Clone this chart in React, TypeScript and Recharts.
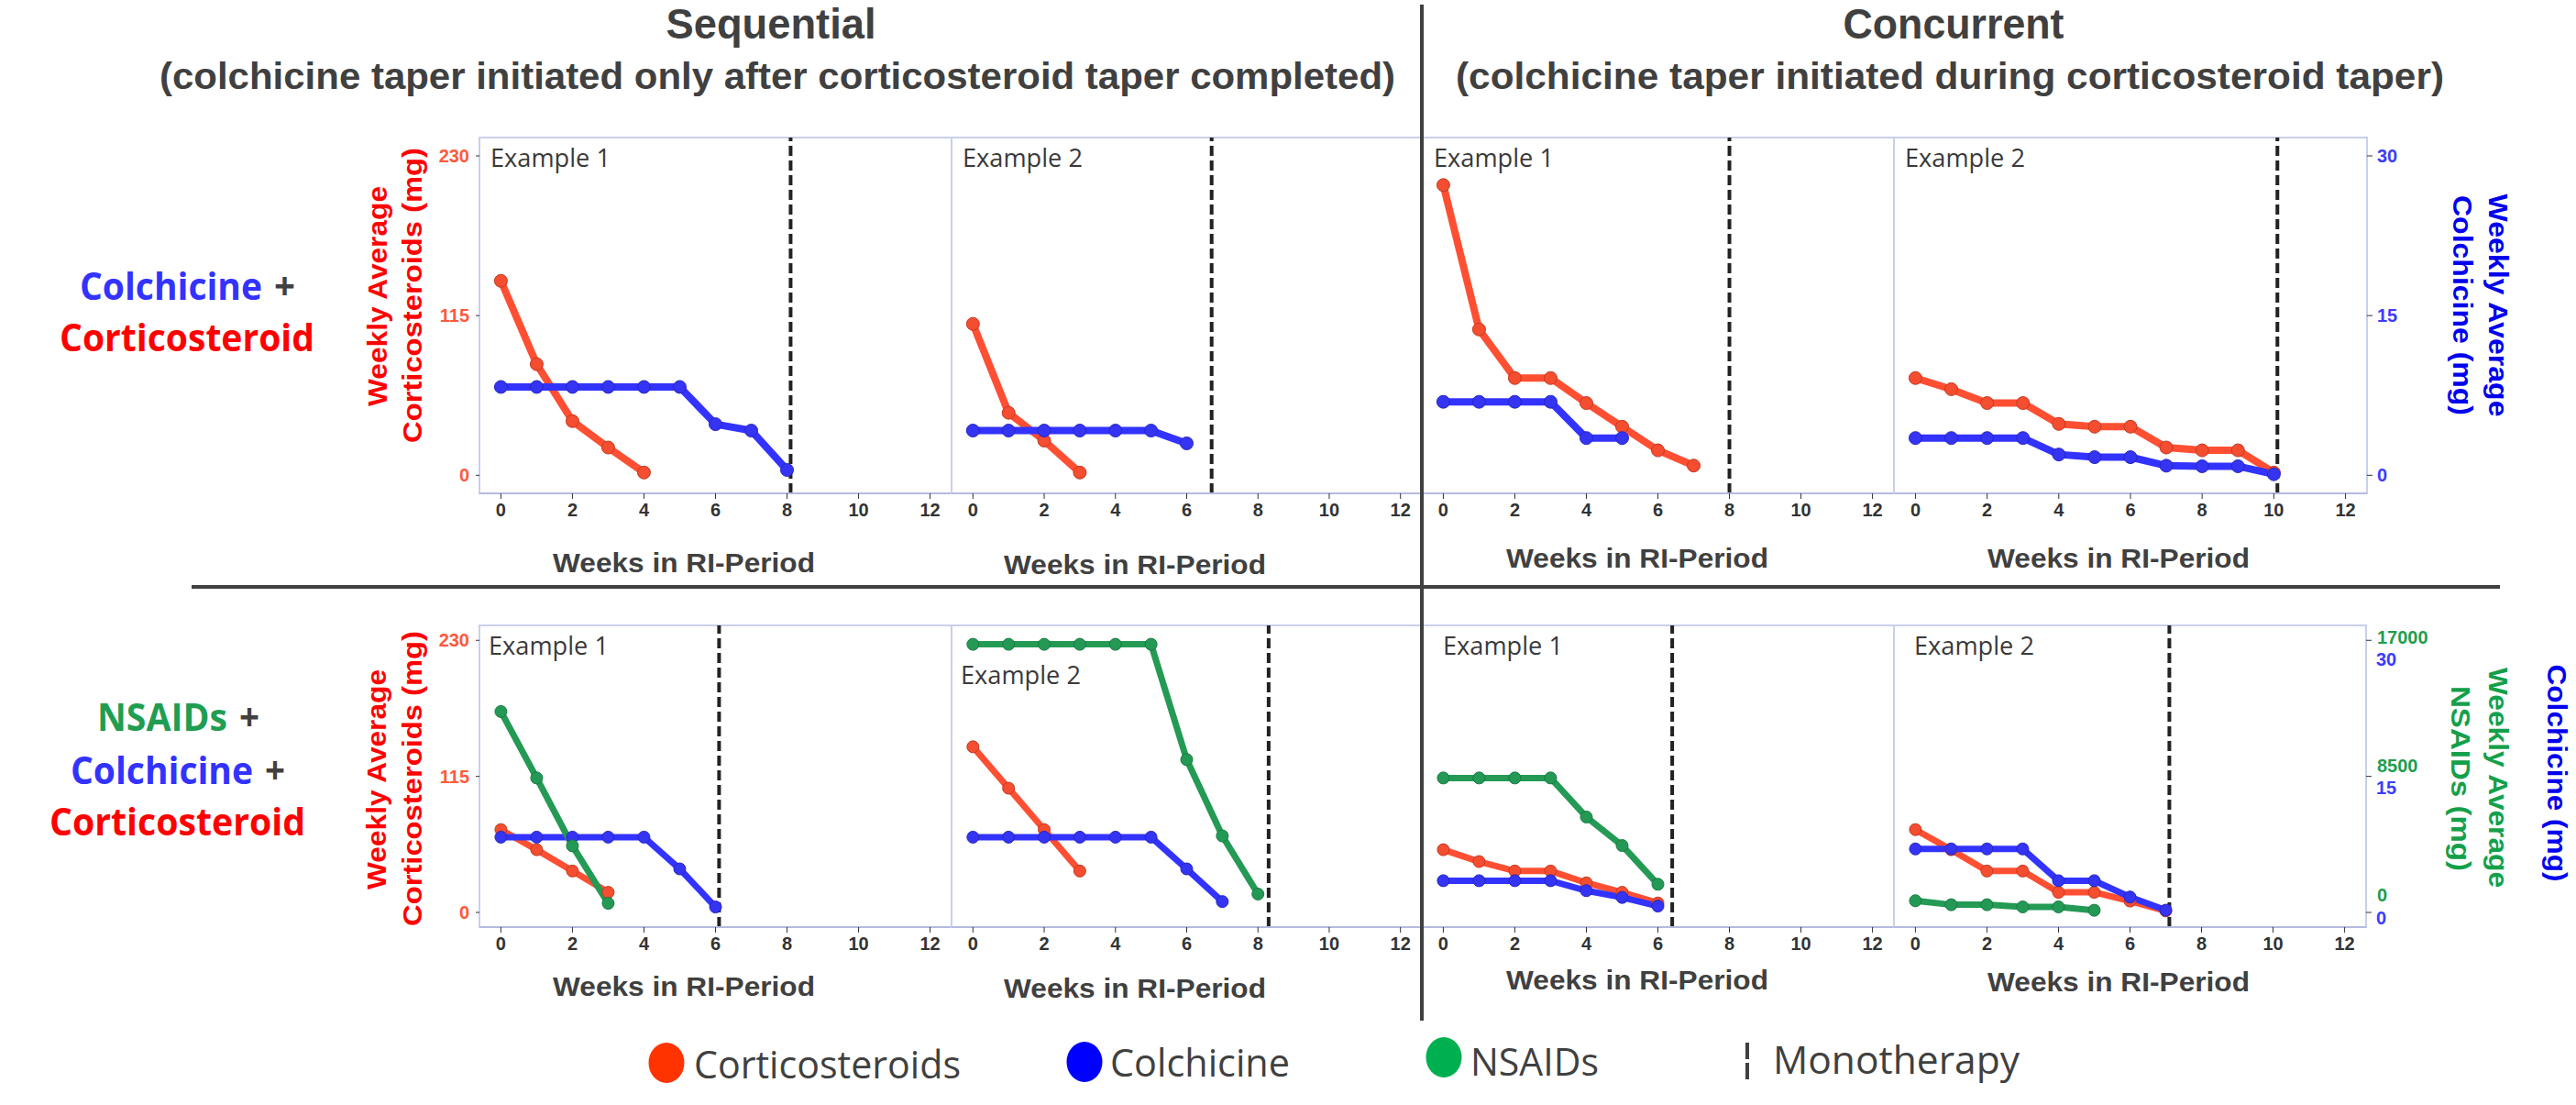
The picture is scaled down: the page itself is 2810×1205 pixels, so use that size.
import React from "react";
import { LineChart, Line, XAxis, YAxis, ReferenceLine, ReferenceArea } from "recharts";

// ---- data (weekly averages) ----
const weekTicks = [0, 2, 4, 6, 8, 10, 12];
const cortTicks = [0, 115, 230];
const colchTicks = [0, 15, 30];
const nsaidTicks = [0, 8500, 17000];

// Sequential, colchicine + corticosteroid
const seqCcEx1Cort = [140, 80, 39, 20, 2];
const seqCcEx1Colch = [8.3, 8.3, 8.3, 8.3, 8.3, 8.3, 4.8, 4.2, 0.5];
const seqCcEx2Cort = [109, 45, 25, 2];
const seqCcEx2Colch = [4.2, 4.2, 4.2, 4.2, 4.2, 4.2, 3.0];

// Concurrent, colchicine + corticosteroid
const conCcEx1Cort = [209, 105, 70, 70, 52, 35, 18, 7];
const conCcEx1Colch = [6.9, 6.9, 6.9, 6.9, 3.5, 3.5];
const conCcEx2Cort = [70, 62, 52, 52, 37, 35, 35, 20, 18, 18, 2];
const conCcEx2Colch = [3.5, 3.5, 3.5, 3.5, 1.95, 1.7, 1.7, 0.9, 0.85, 0.85, 0.1];

// Sequential, NSAIDs + colchicine + corticosteroid
const seqNccEx1Cort = [70, 53, 35, 17];
const seqNccEx1Colch = [8.3, 8.3, 8.3, 8.3, 8.3, 4.8, 0.6];
const seqNccEx1Nsaid = [12550, 8400, 4160, 570];
const seqNccEx2Cort = [140, 105, 70, 35];
const seqNccEx2Colch = [8.3, 8.3, 8.3, 8.3, 8.3, 8.3, 4.8, 1.2];
const seqNccEx2Nsaid = [16750, 16750, 16750, 16750, 16750, 16750, 9550, 4780, 1150];

// Concurrent, NSAIDs + colchicine + corticosteroid
const conNccEx1Cort = [53, 43, 35, 35, 25, 17, 8];
const conNccEx1Colch = [3.5, 3.5, 3.5, 3.5, 2.4, 1.65, 0.7];
const conNccEx1Nsaid = [8400, 8400, 8400, 8400, 5960, 4180, 1760];
const conNccEx2Cort = [70, 53, 35, 35, 17, 17, 9.6, 1.3];
const conNccEx2Colch = [7.0, 7.0, 7.0, 7.0, 3.5, 3.5, 1.7, 0.25];
const conNccEx2Nsaid = [730, 480, 480, 345, 345, 135];

// week at which monotherapy starts (dashed line), panel order
const monoWeek = [8.1, 6.7, 8, 10.1, 6.1, 8.3, 6.4, 7.1];
const exampleNames = ["Example 1", "Example 2", "Example 1", "Example 2", "Example 1", "Example 2", "Example 1", "Example 2"];

// ---- look ----
const CORT = "#ff4f33";
const COLCH = "#3333ff";
const NSAID = "#249a55";
const BORDER = "#c9cfec";
const DARK = "#404040";
const NARROW = "'Liberation Sans Narrow', 'Arial Narrow', 'Liberation Sans', sans-serif";
const SANS = "'Open Sans', 'Noto Sans', sans-serif";
const ARIAL = "'Liberation Sans', Arial, sans-serif";

const toRows = (cort: number[], colch: number[], nsaid: number[] = []) => {
  const n = Math.max(cort.length, colch.length, nsaid.length);
  return Array.from({ length: n }, (_, i) => ({ week: i, cort: cort[i], colch: colch[i], nsaid: nsaid[i] }));
};

type PanelSpec = {
  rows: any[];
  mono: number;
  name: string;
  x: number;
  y: number;
  w: number;
  h: number;
  cortDomain: [number, number];
  left?: boolean;
  right?: "colch" | "both";
  weeksX: number; // label centre, relative to plot left
  weeksY: number; // label centre, relative to plot bottom
  exX: number;
  exY: number;
  lw: number;
  r: number;
};

const TOP_DOM: [number, number] = [-13, 243.2];
const BOT_DOM: [number, number] = [-12.4, 242.6];

const panels: PanelSpec[] = [
  { rows: toRows(seqCcEx1Cort, seqCcEx1Colch), x: 523, y: 150, w: 515, h: 388, cortDomain: TOP_DOM, left: true, weeksX: 223, weeksY: 75, exX: 12, exY: 32, lw: 8, r: 7 },
  { rows: toRows(seqCcEx2Cort, seqCcEx2Colch), x: 1038, y: 150, w: 513, h: 388, cortDomain: TOP_DOM, weeksX: 200, weeksY: 77, exX: 12, exY: 32, lw: 8, r: 7 },
  { rows: toRows(conCcEx1Cort, conCcEx1Colch), x: 1551, y: 150, w: 515, h: 388, cortDomain: TOP_DOM, weeksX: 235, weeksY: 70, exX: 13, exY: 32, lw: 8, r: 7 },
  { rows: toRows(conCcEx2Cort, conCcEx2Colch), x: 2066, y: 150, w: 515, h: 388, cortDomain: TOP_DOM, right: "colch", weeksX: 245, weeksY: 70, exX: 12, exY: 32, lw: 8, r: 7 },
  { rows: toRows(seqNccEx1Cort, seqNccEx1Colch, seqNccEx1Nsaid), x: 523, y: 682, w: 515, h: 329, cortDomain: BOT_DOM, left: true, weeksX: 223, weeksY: 64, exX: 10, exY: 32, lw: 7, r: 6.5 },
  { rows: toRows(seqNccEx2Cort, seqNccEx2Colch, seqNccEx2Nsaid), x: 1038, y: 682, w: 513, h: 329, cortDomain: BOT_DOM, weeksX: 200, weeksY: 66, exX: 10, exY: 64, lw: 7, r: 6.5 },
  { rows: toRows(conNccEx1Cort, conNccEx1Colch, conNccEx1Nsaid), x: 1551, y: 682, w: 515, h: 329, cortDomain: BOT_DOM, weeksX: 235, weeksY: 57, exX: 23, exY: 32, lw: 7, r: 6.5 },
  { rows: toRows(conNccEx2Cort, conNccEx2Colch, conNccEx2Nsaid), x: 2066, y: 682, w: 515, h: 329, cortDomain: BOT_DOM, right: "both", weeksX: 245, weeksY: 59, exX: 22, exY: 32, lw: 7, r: 6.5 },
].map((p, i) => ({ ...p, mono: monoWeek[i], name: exampleNames[i] }));

const scaleDom = (d: [number, number], k: number): [number, number] => [d[0] * k, d[1] * k];

const tickFont = { fontFamily: ARIAL, fontWeight: 700, fontSize: 20 };

const makeSideTick = (color: string, offsets: number[], values: number[]) => (props: any) => {
  const { x, y, payload } = props;
  const idx = values.indexOf(payload.value);
  return (
    <text x={x} y={y + (offsets[idx] ?? 0)} fill={color} textAnchor="start" dominantBaseline="central" style={tickFont}>
      {payload.value}
    </text>
  );
};

function Panel({ p }: { p: PanelSpec }) {
  const leftW = p.left ? 70 : 0;
  const rightW = p.right ? 2 : 0;
  const mL = 10;
  const mT = 10;
  const mR = p.right ? 100 : 10;
  const axisH = 110;
  const width = mL + leftW + p.w + rightW + mR;
  const height = mT + p.h + axisH;
  const colchDom = scaleDom(p.cortDomain, 30 / 230);
  const nsaidDom = scaleDom(p.cortDomain, 17000 / 230);
  const both = p.right === "both";

  const dot = (fill: string, stroke: string) => ({ r: p.r, fill, stroke, strokeWidth: 1 });

  return (
    <div style={{ position: "absolute", left: p.x - mL - leftW, top: p.y - mT }}>
      <LineChart width={width} height={height} data={p.rows} margin={{ top: mT, right: mR, bottom: 0, left: mL }}>
        <XAxis
          dataKey="week"
          type="number"
          domain={[-0.6, 12.6]}
          ticks={weekTicks}
          allowDataOverflow
          height={axisH}
          axisLine={{ stroke: "#b5bbdf", strokeWidth: 2 }}
          tickLine={{ stroke: "#333" }}
          tickSize={6}
          tickMargin={5}
          tick={{ ...tickFont, fill: "#333" }}
          label={{
            value: "Weeks in RI-Period",
            content: (lp: any) => {
              const vb = lp.viewBox;
              return (
                <text
                  x={vb.x + p.weeksX}
                  y={vb.y + p.weeksY}
                  textAnchor="middle"
                  dominantBaseline="central"
                  textLength={286}
                  lengthAdjust="spacingAndGlyphs"
                  fill={DARK}
                  style={{ fontFamily: NARROW, fontWeight: 700, fontSize: 30 }}
                >
                  Weeks in RI-Period
                </text>
              );
            },
          }}
        />
        <YAxis
          yAxisId="cort"
          type="number"
          domain={p.cortDomain}
          ticks={cortTicks}
          allowDataOverflow
          hide={!p.left}
          width={leftW}
          axisLine={false}
          tickLine={{ stroke: "#333" }}
          tickSize={4}
          tickMargin={7}
          tick={{ ...tickFont, fill: "#ff5a3c" }}
        />
        <YAxis
          yAxisId="colch"
          orientation="right"
          type="number"
          domain={colchDom}
          ticks={colchTicks}
          allowDataOverflow
          hide={!p.right}
          width={1}
          axisLine={false}
          tickLine={{ stroke: "#333" }}
          tickSize={6}
          tickMargin={5}
          tick={both ? makeSideTick("#3c3cff", [6, 12, 21], colchTicks) : makeSideTick("#3c3cff", [0, 0, 0], colchTicks)}
        />
        <YAxis
          yAxisId="nsaid"
          orientation="right"
          type="number"
          domain={nsaidDom}
          ticks={nsaidTicks}
          allowDataOverflow
          hide={!both}
          width={1}
          axisLine={false}
          tickLine={false}
          tickSize={6}
          tickMargin={5}
          tick={makeSideTick("#1e9e50", [-19, -12, -3], nsaidTicks)}
        />
        <ReferenceArea
          yAxisId="cort"
          x1={-0.6}
          x2={12.6}
          y1={p.cortDomain[0]}
          y2={p.cortDomain[1]}
          fill="none"
          stroke={BORDER}
          strokeWidth={2}
        />
        <ReferenceLine yAxisId="cort" x={p.mono} stroke="#222" strokeWidth={4} strokeDasharray="11 5" />
        <Line
          yAxisId="cort"
          dataKey="cort"
          type="linear"
          stroke={CORT}
          strokeWidth={p.lw}
          dot={dot("#f44d30", "#c23a22")}
          activeDot={false}
          isAnimationActive={false}
        />
        <Line
          yAxisId="colch"
          dataKey="colch"
          type="linear"
          stroke={COLCH}
          strokeWidth={p.lw}
          dot={dot("#3434f2", "#2626c4")}
          activeDot={false}
          isAnimationActive={false}
        />
        <Line
          yAxisId="nsaid"
          dataKey="nsaid"
          type="linear"
          stroke={NSAID}
          strokeWidth={p.lw}
          dot={dot("#249955", "#1a7a42")}
          activeDot={false}
          isAnimationActive={false}
        />
      </LineChart>
    </div>
  );
}

function RotText({ cx, cy, len, color, children, deg = -90, size = 30 }: any) {
  return (
    <text
      transform={`translate(${cx},${cy}) rotate(${deg})`}
      textAnchor="middle"
      dominantBaseline="central"
      textLength={len}
      lengthAdjust="spacingAndGlyphs"
      fill={color}
      style={{ fontFamily: ARIAL, fontWeight: 700, fontSize: size }}
    >
      {children}
    </text>
  );
}

// a bold label placed by its left edge and width
function Word({ x, y, w, color, children }: any) {
  return (
    <text x={x} y={y} textLength={w} lengthAdjust="spacingAndGlyphs" fill={color} style={{ fontFamily: SANS, fontWeight: 700, fontSize: 42 }}>
      {children}
    </text>
  );
}

function Overlay() {
  const leg = { fontFamily: SANS, fontWeight: 400, fontSize: 42 };
  const ex = { fontFamily: SANS, fontWeight: 400, fontSize: 28 };
  const head = { fontFamily: ARIAL, fontWeight: 700, fontSize: 46 };
  const sub = { fontFamily: ARIAL, fontWeight: 700, fontSize: 41 };
  return (
    <svg width={2810} height={1205} style={{ position: "absolute", left: 0, top: 0, pointerEvents: "none" }}>
      {/* column titles */}
      <text x={841} y={42} textAnchor="middle" textLength={229} lengthAdjust="spacingAndGlyphs" fill={DARK} style={head}>
        Sequential
      </text>
      <text x={848} y={97} textAnchor="middle" textLength={1348} lengthAdjust="spacingAndGlyphs" fill={DARK} style={sub}>
        (colchicine taper initiated only after corticosteroid taper completed)
      </text>
      <text x={2131} y={42} textAnchor="middle" textLength={241} lengthAdjust="spacingAndGlyphs" fill={DARK} style={head}>
        Concurrent
      </text>
      <text x={2127} y={97} textAnchor="middle" textLength={1078} lengthAdjust="spacingAndGlyphs" fill={DARK} style={sub}>
        (colchicine taper initiated during corticosteroid taper)
      </text>

      {/* row labels */}
      <Word x={87} y={327} w={199} color="#3333ff">Colchicine</Word>
      <Word x={299} y={327} w={23} color={DARK}>+</Word>
      <Word x={65} y={383} w={278} color="#ff0000">Corticosteroid</Word>

      <Word x={106} y={797} w={142} color="#1f9e52">NSAIDs</Word>
      <Word x={261} y={797} w={22} color={DARK}>+</Word>
      <Word x={77} y={855} w={199} color="#3333ff">Colchicine</Word>
      <Word x={289} y={855} w={22} color={DARK}>+</Word>
      <Word x={54} y={911} w={279} color="#ff0000">Corticosteroid</Word>

      {/* left axis titles */}
      <RotText cx={411} cy={323} len={240} color="#ff0000">Weekly Average</RotText>
      <RotText cx={449} cy={322} len={322} color="#ff0000">Corticosteroids  (mg)</RotText>
      <RotText cx={410} cy={850} len={240} color="#ff0000">Weekly Average</RotText>
      <RotText cx={449} cy={849} len={322} color="#ff0000">Corticosteroids  (mg)</RotText>

      {/* right axis titles */}
      <RotText cx={2725} cy={333} len={243} color="#0000ee" deg={90}>Weekly Average</RotText>
      <RotText cx={2686} cy={333} len={240} color="#0000ee" deg={90}>Colchicine (mg)</RotText>
      <RotText cx={2725} cy={848} len={240} color="#14a04a" deg={90}>Weekly Average</RotText>
      <RotText cx={2684} cy={849} len={202} color="#14a04a" deg={90}>NSAIDs  (mg)</RotText>
      <RotText cx={2789} cy={843} len={237} color="#0000ee" deg={90}>Colchicine (mg)</RotText>

      {/* example labels */}
      {panels.map((p, i) => (
        <text key={i} x={p.x + p.exX} y={p.y + p.exY} textLength={131} lengthAdjust="spacingAndGlyphs" fill="#3a3a3a" style={ex}>
          {p.name}
        </text>
      ))}

      {/* dividers */}
      <line x1={1551} y1={5} x2={1551} y2={1113} stroke={DARK} strokeWidth={4} />
      <line x1={209} y1={640} x2={2727} y2={640} stroke={DARK} strokeWidth={4} />

      {/* legend */}
      <ellipse cx={727} cy={1159} rx={19.5} ry={22} fill="#ff3300" />
      <text x={757} y={1176} textLength={291} lengthAdjust="spacingAndGlyphs" fill={DARK} style={leg}>Corticosteroids</text>
      <ellipse cx={1183} cy={1158} rx={19.5} ry={22} fill="#0000ff" />
      <text x={1211} y={1174} textLength={196} lengthAdjust="spacingAndGlyphs" fill={DARK} style={leg}>Colchicine</text>
      <ellipse cx={1575} cy={1153} rx={19.5} ry={22} fill="#00b050" />
      <text x={1604} y={1173} textLength={140} lengthAdjust="spacingAndGlyphs" fill={DARK} style={leg}>NSAIDs</text>
      <line x1={1906} y1={1137} x2={1906} y2={1179} stroke={DARK} strokeWidth={4} strokeDasharray="18 4" />
      <text x={1934} y={1171} textLength={269} lengthAdjust="spacingAndGlyphs" fill={DARK} style={leg}>Monotherapy</text>
    </svg>
  );
}

export default function App() {
  return (
    <div style={{ position: "absolute", left: 0, top: 0, width: 2810, height: 1205, background: "#fff", overflow: "hidden" }}>
      {panels.map((p, i) => (
        <Panel key={i} p={p} />
      ))}
      <Overlay />
    </div>
  );
}
